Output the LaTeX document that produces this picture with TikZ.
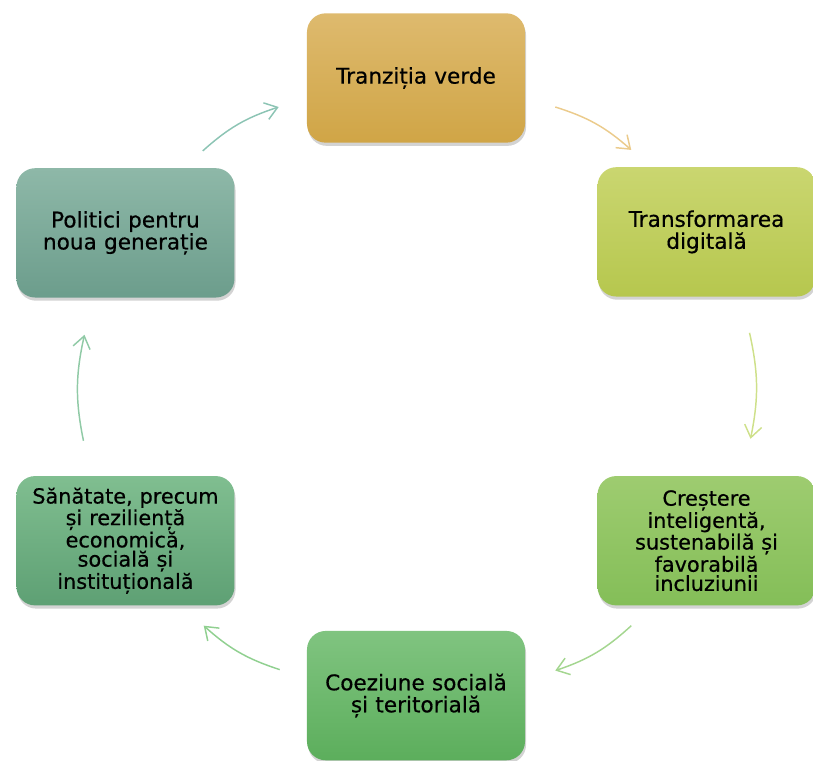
\documentclass[tikz,border=0pt]{standalone}
\usepackage{xcolor}
\usepackage{fontspec}
\setmainfont{DejaVu Sans}[FakeBold=0.5]
\usepackage{tikz}
\usetikzlibrary{arrows.meta, positioning, shadows}
\definecolor{goldTop}{RGB}{222, 186, 110}
\definecolor{goldBot}{RGB}{208, 165, 70}
\definecolor{limeTop}{RGB}{202, 214, 112}
\definecolor{limeBot}{RGB}{182, 199, 78}
\definecolor{leafTop}{RGB}{158, 204, 112}
\definecolor{leafBot}{RGB}{132, 190, 88}
\definecolor{grassTop}{RGB}{128, 196, 128}
\definecolor{grassBot}{RGB}{92, 174, 92}
\definecolor{sageTop}{RGB}{128, 190, 144}
\definecolor{sageBot}{RGB}{94, 160, 116}
\definecolor{tealTop}{RGB}{142, 184, 168}
\definecolor{tealBot}{RGB}{108, 157, 140}
\definecolor{arrTeal}{RGB}{140, 196, 180}
\definecolor{arrGold}{RGB}{235, 203, 140}
\definecolor{arrLime}{RGB}{206, 224, 138}
\definecolor{arrLeaf}{RGB}{164, 214, 144}
\definecolor{arrGrass}{RGB}{144, 208, 144}
\definecolor{arrSage}{RGB}{144, 202, 166}

\begin{document}
\begin{tikzpicture}[
    block/.style={rectangle, rounded corners=14pt, minimum width=163.5pt, minimum height=97pt,
        text width=155pt, align=center, inner sep=2pt,
        font=\fontsize{16.2}{16.5}\selectfont,
        drop shadow={shadow xshift=0.8pt, shadow yshift=-2.4pt, opacity=0.35}},
    tall/.style={font=\fontsize{15.6}{14.4}\selectfont},
    tint/.style 2 args={top color=#1, bottom color=#2},
    line/.style={line width=1.1pt, -{Straight Barb[length=9pt, width=13pt]}}
]
    \useasboundingbox (-312pt,-511.5pt) rectangle (297.75pt,58.5pt);

    % Noduri ale ciclului
    \node (tranz) [block, tint={goldTop}{goldBot}] at (0,0) {Tranziția verde};
    \node (digit) [block, tint={limeTop}{limeBot}, below right=18pt and 54pt of tranz] {Transformarea\\digitală};
    \node (crest) [block, tall, tint={leafTop}{leafBot}, below=134.25pt of digit] {Creștere\\inteligentă,\\sustenabilă și\\favorabilă\\incluziunii};
    \node (coez) [block, tint={grassTop}{grassBot}, below left=18.75pt and 54pt of crest] {Coeziune socială\\și teritorială};
    \node (san) [block, tall, tint={sageTop}{sageBot}, above left=18.75pt and 54pt of coez] {Sănătate, precum\\și reziliență\\economică,\\socială și\\instituțională};
    \node (pol) [block, tint={tealTop}{tealBot}, above=133.5pt of san] {Politici pentru\\noua generație};

    % Sageti
    \path [line, draw=arrTeal] ([xshift=-24pt, yshift=12.75pt]pol.north east) to[bend left=12] ([xshift=-21pt, yshift=-21.75pt]tranz.west);
    \path [line, draw=arrGold] ([xshift=22.5pt, yshift=-21.75pt]tranz.east) to[bend left=12] ([xshift=25.5pt, yshift=12.75pt]digit.north west);
    \path [line, draw=arrLime] ([xshift=32.25pt, yshift=-27pt]digit.south) to[bend left=12] ([xshift=33pt, yshift=27.75pt]crest.north);
    \path [line, draw=arrLeaf] ([xshift=25.5pt, yshift=-15pt]crest.south west) to[bend left=12] ([xshift=22.5pt, yshift=18.75pt]coez.east);
    \path [line, draw=arrGrass] ([xshift=-20.25pt, yshift=19.5pt]coez.west) to[bend left=12] ([xshift=-23.25pt, yshift=-15pt]san.south east);
    \path [line, draw=arrSage] ([xshift=-31.5pt, yshift=26.25pt]san.north) to[bend left=12] ([xshift=-30.75pt, yshift=-27.75pt]pol.south);
\end{tikzpicture}
\end{document}
